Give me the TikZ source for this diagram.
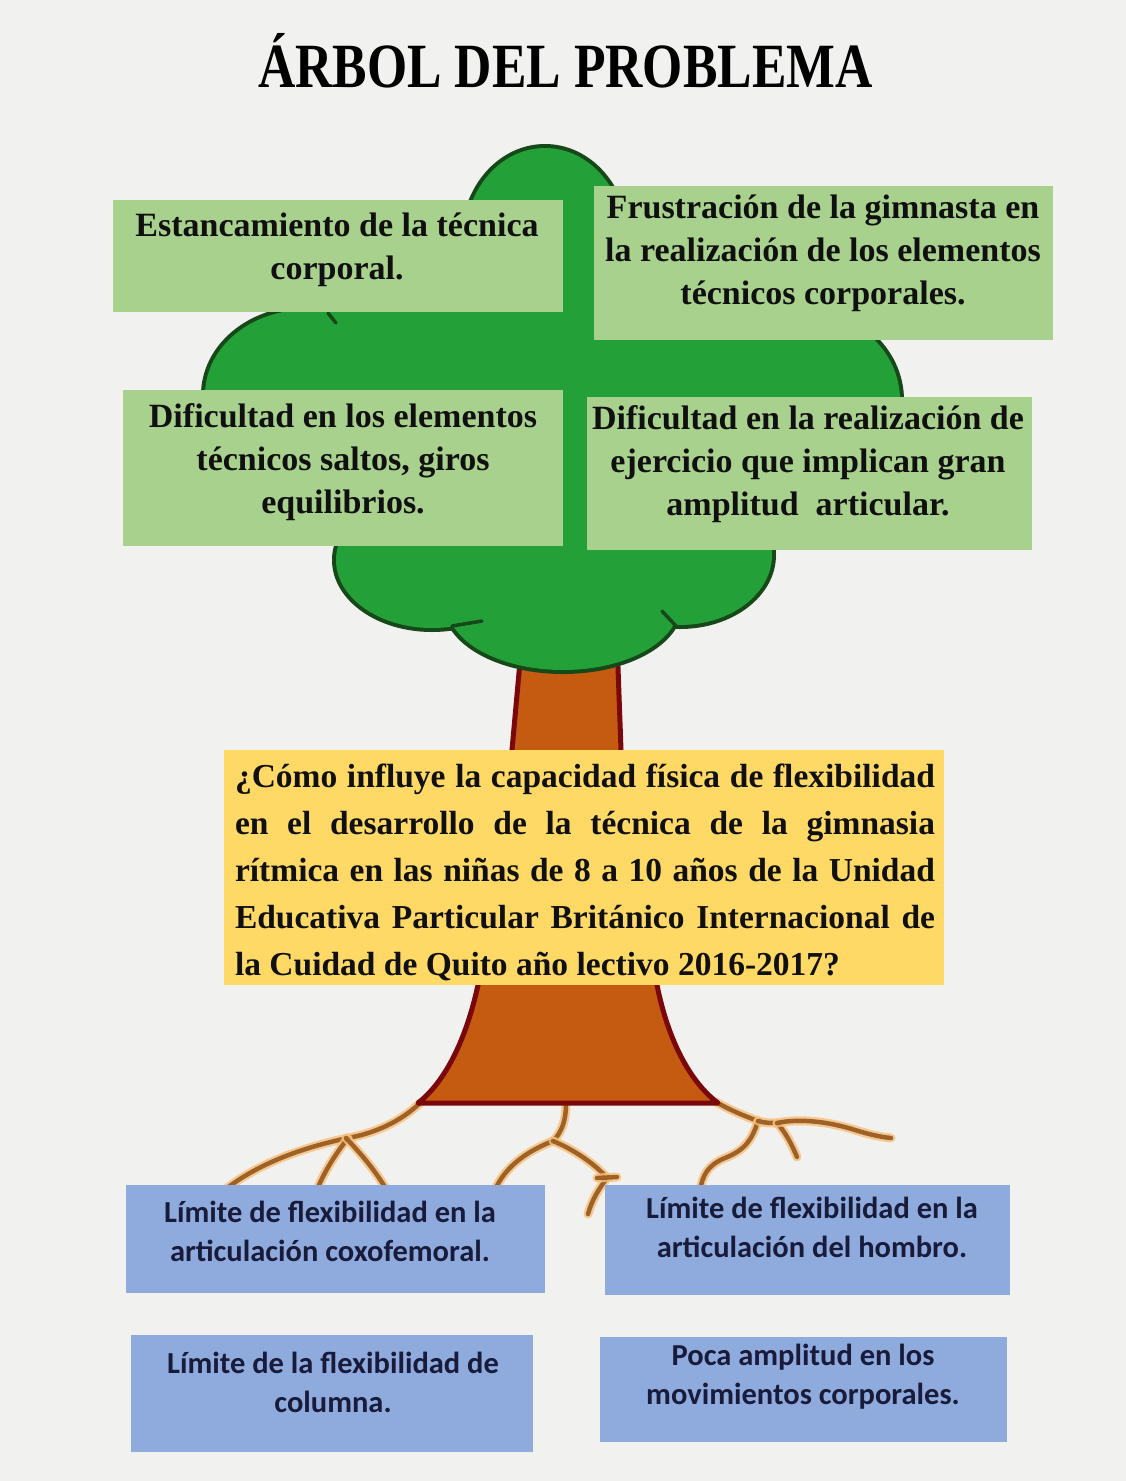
\documentclass[tikz,border=0pt]{standalone}
\usepackage{fontspec}
\setmainfont{Liberation Serif}
\newfontfamily\boxsans{Carlito}

\definecolor{paper}{RGB}{241,241,239}
\definecolor{crowngreen}{RGB}{35,160,55}
\definecolor{crownedge}{RGB}{22,72,26}
\definecolor{leafbox}{RGB}{169,209,142}
\definecolor{questionbox}{RGB}{255,217,102}
\definecolor{rootbox}{RGB}{143,170,220}
\definecolor{barkfill}{RGB}{197,90,17}
\definecolor{barkedge}{RGB}{122,8,8}
\definecolor{rootcore}{RGB}{158,98,38}
\definecolor{roothalo}{RGB}{246,192,124}
\definecolor{inkdark}{RGB}{16,16,16}
\definecolor{navyink}{RGB}{24,28,58}

% crown of the tree: overlapping lobes, each painted on its own so that
% the outline pass followed by the fill pass leaves one merged silhouette
\newcommand{\crownlobes}[1]{%
  \path[#1] (545,240) ellipse [x radius=80, y radius=92];
  \path[#1] (305,395) ellipse [x radius=100, y radius=85];
  \path[#1] (800,400) ellipse [x radius=100, y radius=90];
  \path[#1] (432,560) ellipse [x radius=96, y radius=68];
  \path[#1] (680,555) ellipse [x radius=92, y radius=70];
  \path[#1] (563,605) ellipse [x radius=116, y radius=65];
  \path[#1] (312,250) rectangle (790,530);
  \path[#1] (420,500) rectangle (700,600);}

\begin{document}
\begin{tikzpicture}[x=1pt,y=-1pt,
  every node/.style={inner sep=0pt, outer sep=0pt},
  leafcard/.style={fill=leafbox},
  questioncard/.style={fill=questionbox},
  rootcard/.style={fill=rootbox},
  serifbold/.style={font=\fontsize{34}{43}\selectfont\bfseries, align=center, text=inkdark},
  questiontext/.style={font=\fontsize{33.5}{47}\selectfont\bfseries, align=justify, text width=700pt, text=inkdark},
  sansbold/.style={font=\boxsans\fontsize{30.5}{39}\selectfont\bfseries, align=center, text=navyink},
  rootline/.style={draw=rootcore, line width=4.5pt, line cap=round, line join=round,
    preaction={draw=roothalo, line width=9pt, line cap=round, opacity=0.8}},
  crowntick/.style={draw=crownedge, line width=3.5pt, line cap=round}
]
\useasboundingbox (0,0) rectangle (1126,1481);
\fill[paper] (0,0) rectangle (1126,1481);

% title
\node[anchor=base] (title) at (565.5,87)
  {\scalebox{0.82}[1]{\fontsize{63}{63}\selectfont\bfseries ÁRBOL DEL PROBLEMA}};

% roots
\path[rootline] (420,1103) .. controls (400,1122) and (375,1133) .. (348,1138)
  .. controls (300,1148) and (255,1165) .. (222,1192);
\path[rootline] (348,1138) .. controls (335,1155) and (325,1170) .. (316,1192);
\path[rootline] (346,1138) .. controls (362,1155) and (375,1170) .. (388,1192);
\path[rootline] (566,1104) .. controls (566,1120) and (562,1132) .. (553,1141);
\path[rootline] (553,1141) .. controls (530,1150) and (505,1165) .. (494,1192);
\path[rootline] (553,1141) .. controls (575,1150) and (596,1165) .. (607,1178);
\path[rootline] (607,1178) .. controls (598,1190) and (592,1200) .. (588,1214);
\path[rootline] (597,1178) -- (617,1177);
\path[rootline] (716,1102) .. controls (730,1110) and (742,1115) .. (758,1121);
\path[rootline] (758,1121) .. controls (752,1140) and (745,1150) .. (725,1158)
  .. controls (708,1165) and (702,1175) .. (700,1192);
\path[rootline] (758,1121) .. controls (765,1123) and (770,1123) .. (777,1123);
\path[rootline] (777,1123) .. controls (786,1133) and (792,1145) .. (797,1157);
\path[rootline] (777,1123) .. controls (800,1118) and (830,1122) .. (855,1130)
  .. controls (868,1134) and (880,1137) .. (891,1138);

% trunk
\filldraw[fill=barkfill, draw=barkedge, line width=5pt, line join=round]
  (522,640) -- (512,750) -- (478,985)
  .. controls (466,1040) and (445,1082) .. (418,1103) -- (718,1103)
  .. controls (690,1082) and (668,1040) .. (657,985) -- (621,750) -- (617,640);

% crown
\crownlobes{draw=crownedge, line width=8pt}
\crownlobes{fill=crowngreen}
\path[crowntick] (328,313) -- (336,323);
\path[crowntick] (452,626) -- (482,621);
\path[crowntick] (676,626) -- (662,611);

% effects (crown)
\node[leafcard, minimum width=450pt, minimum height=112pt] (e1) at (338,256) {};
\node[serifbold] (e1t) at (337,250) {Estancamiento de la técnica\\corporal.};
\node[leafcard, minimum width=459pt, minimum height=154pt] (e2) at (823.5,263) {};
\node[serifbold] (e2t) at (823,253) {Frustración de la gimnasta en\\la realización de los elementos\\técnicos corporales.};
\node[leafcard, minimum width=440pt, minimum height=156pt] (e3) at (343,468) {};
\node[serifbold] (e3t) at (343,462) {Dificultad en los elementos\\técnicos saltos, giros\\equilibrios.};
\node[leafcard, minimum width=445pt, minimum height=153pt] (e4) at (809.5,473.5) {};
\node[serifbold] (e4t) at (808,464) {Dificultad en la realización de\\ejercicio que implican gran\\amplitud\ \ articular.};

% central problem (trunk)
\node[questioncard, minimum width=720pt, minimum height=235pt] (q) at (584,867.5) {};
\node[questiontext] (qt) at (585,872) {¿Cómo influye la capacidad física de flexibilidad\linebreak
en el desarrollo de la técnica de la gimnasia\linebreak
rítmica en las niñas de 8 a 10 años de la Unidad\linebreak
Educativa Particular Británico Internacional de\linebreak
la Cuidad de Quito año lectivo 2016-2017?};

% causes (roots)
\node[rootcard, minimum width=419pt, minimum height=108pt] (c1) at (335.5,1239) {};
\node[sansbold] (c1t) at (330,1231) {Límite de flexibilidad en la\\articulación coxofemoral.};
\node[rootcard, minimum width=405pt, minimum height=110pt] (c2) at (807.5,1240) {};
\node[sansbold] (c2t) at (812,1227) {Límite de flexibilidad en la\\articulación del hombro.};
\node[rootcard, minimum width=402pt, minimum height=117pt] (c3) at (332,1393.5) {};
\node[sansbold] (c3t) at (333,1382) {Límite de la flexibilidad de\\columna.};
\node[rootcard, minimum width=407pt, minimum height=105pt] (c4) at (803.5,1389.5) {};
\node[sansbold] (c4t) at (803,1377) {Poca amplitud en los\\movimientos corporales.};
\end{tikzpicture}
\end{document}
